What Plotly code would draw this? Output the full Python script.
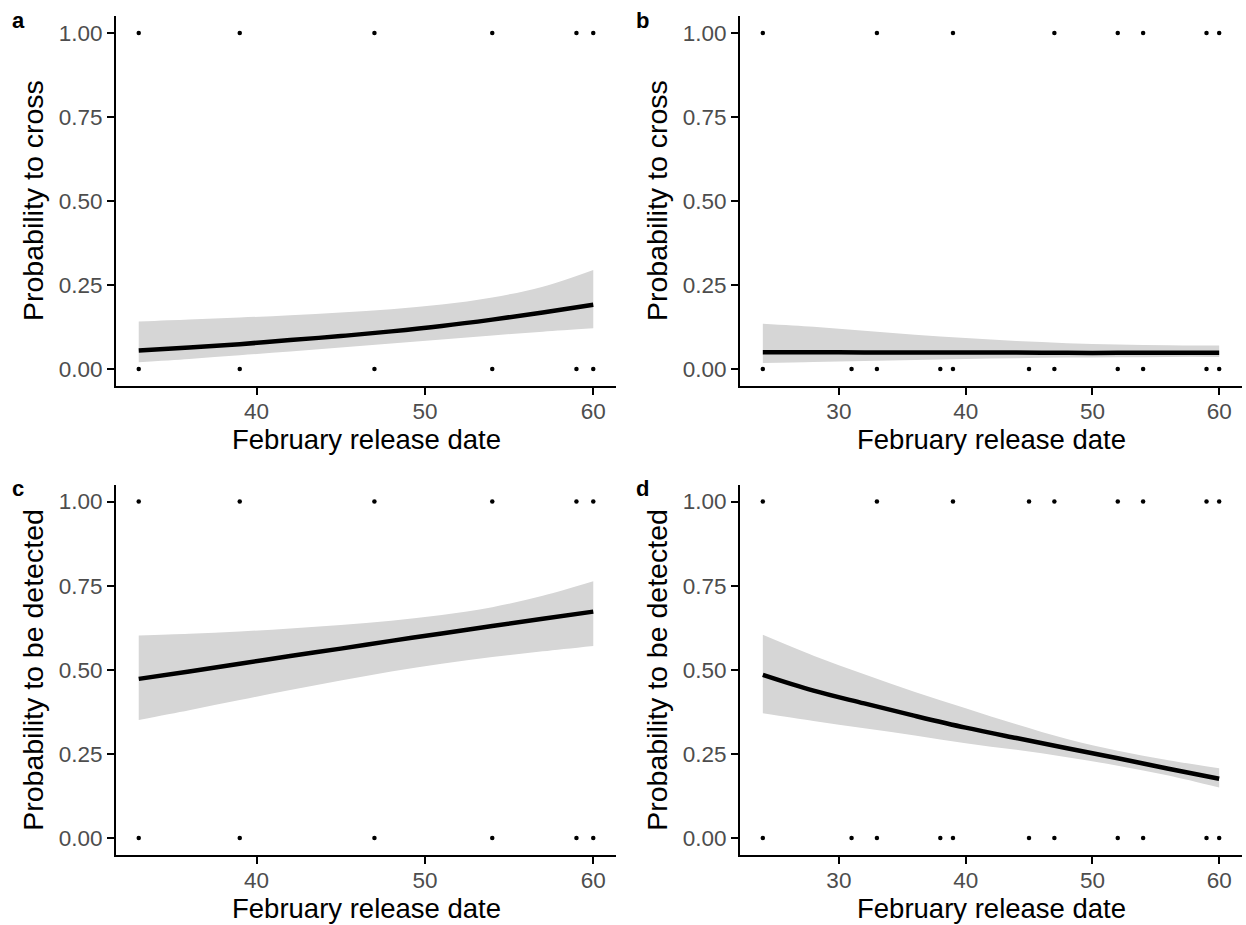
import plotly.graph_objects as go

# ---------------- data ----------------
# Panel a: probability to cross vs release date (site 1)
A_X = [33, 36, 39, 42, 45, 48, 51, 54, 57, 60]
A_FIT = [0.055, 0.064, 0.074, 0.086, 0.098, 0.112, 0.128, 0.147, 0.168, 0.191]
A_UP = [0.141, 0.147, 0.153, 0.160, 0.168, 0.178, 0.192, 0.213, 0.245, 0.295]
A_LO = [0.020, 0.030, 0.041, 0.052, 0.064, 0.076, 0.088, 0.100, 0.111, 0.121]
A_OBS1 = [33, 39, 47, 54, 59, 60]
A_OBS0 = [33, 39, 47, 54, 59, 60]

# Panel b: probability to cross (site 2)
B_X = [24, 28, 32, 36, 40, 44, 48, 52, 56, 60]
B_FIT = [0.050, 0.050, 0.049, 0.049, 0.049, 0.049, 0.048, 0.048, 0.048, 0.048]
B_UP = [0.135, 0.126, 0.114, 0.102, 0.092, 0.083, 0.077, 0.073, 0.071, 0.070]
B_LO = [0.018, 0.021, 0.024, 0.027, 0.030, 0.032, 0.034, 0.035, 0.036, 0.036]
B_OBS1 = [24, 33, 39, 47, 52, 54, 59, 60]
B_OBS0 = [24, 31, 33, 38, 39, 45, 47, 52, 54, 59, 60]

# Panel c: probability to be detected (site 1)
C_X = [33, 36, 39, 42, 45, 48, 51, 54, 57, 60]
C_FIT = [0.473, 0.495, 0.518, 0.541, 0.563, 0.586, 0.608, 0.630, 0.652, 0.673]
C_UP = [0.602, 0.607, 0.614, 0.623, 0.633, 0.646, 0.663, 0.686, 0.720, 0.763]
C_LO = [0.351, 0.380, 0.410, 0.440, 0.468, 0.495, 0.518, 0.538, 0.555, 0.571]
C_OBS1 = [33, 39, 47, 54, 59, 60]
C_OBS0 = [33, 39, 47, 54, 59, 60]

# Panel d: probability to be detected (site 2)
D_X = [24, 28, 32, 36, 40, 44, 48, 52, 56, 60]
D_FIT = [0.485, 0.438, 0.400, 0.363, 0.328, 0.297, 0.267, 0.237, 0.206, 0.176]
D_UP = [0.604, 0.542, 0.487, 0.434, 0.386, 0.338, 0.294, 0.259, 0.231, 0.207]
D_LO = [0.371, 0.348, 0.326, 0.305, 0.282, 0.262, 0.240, 0.215, 0.186, 0.150]
D_OBS1 = [24, 33, 39, 45, 47, 52, 54, 59, 60]
D_OBS0 = [24, 31, 33, 38, 39, 45, 47, 52, 54, 59, 60]

Y_TICKS = [0, 0.25, 0.5, 0.75, 1.0]
Y_TICK_LABELS = ["0.00", "0.25", "0.50", "0.75", "1.00"]
X_TICKS_AC = [40, 50, 60]
X_TICKS_BD = [30, 40, 50, 60]

X_TITLE = "February release date"
Y_TITLES = ["Probability to cross", "Probability to cross",
            "Probability to be detected", "Probability to be detected"]
LETTERS = ["a", "b", "c", "d"]

# ---------------- figure ----------------
W, H = 1246, 925
FONT = "Liberation Sans, Arial, sans-serif"
RIBBON = "rgb(214,214,214)"

panels = [
    (A_X, A_FIT, A_UP, A_LO, A_OBS1, A_OBS0),
    (B_X, B_FIT, B_UP, B_LO, B_OBS1, B_OBS0),
    (C_X, C_FIT, C_UP, C_LO, C_OBS1, C_OBS0),
    (D_X, D_FIT, D_UP, D_LO, D_OBS1, D_OBS0),
]

# pixel geometry of plot areas (left, right, top, bottom)
cols = [(116, 616), (740, 1242)]
rows = [(16.2, 385.8), (484.8, 854.8)]

fig = go.Figure()
layout = dict(
    width=W, height=H,
    margin=dict(l=0, r=0, t=0, b=0),
    paper_bgcolor="white", plot_bgcolor="white",
    showlegend=False,
    font=dict(family=FONT, color="black"),
)

annotations = []
for i, (xs, fit, up, lo, obs1, obs0) in enumerate(panels):
    r, c = divmod(i, 2)
    n = i + 1
    xa = "x" if n == 1 else f"x{n}"
    ya = "y" if n == 1 else f"y{n}"
    allx = obs1 + obs0 + xs
    xmin, xmax = min(allx), max(allx)
    pad = (xmax - xmin) * 0.05

    # confidence ribbon: upper edge, then lower edge filled to it
    fig.add_trace(go.Scatter(
        x=xs, y=up, mode="lines", line=dict(width=0, shape="spline", color=RIBBON),
        hoverinfo="skip", xaxis=xa, yaxis=ya))
    fig.add_trace(go.Scatter(
        x=xs, y=lo, mode="lines", fill="tonexty", fillcolor=RIBBON,
        line=dict(width=0, shape="spline", color=RIBBON),
        hoverinfo="skip", xaxis=xa, yaxis=ya))
    fig.add_trace(go.Scatter(
        x=xs, y=fit, mode="lines",
        line=dict(color="black", width=4.5, shape="spline"),
        xaxis=xa, yaxis=ya))
    fig.add_trace(go.Scatter(
        x=obs1 + obs0, y=[1] * len(obs1) + [0] * len(obs0),
        mode="markers", marker=dict(color="black", size=4.5),
        xaxis=xa, yaxis=ya))

    l, rr = cols[c]
    t, b = rows[r]
    axcommon = dict(
        showgrid=False, zeroline=False, showline=True,
        linecolor="black", linewidth=2,
        ticks="outside", ticklen=7, tickwidth=2, tickcolor="black",
        tickfont=dict(family=FONT, size=22.5, color="#4D4D4D"),
    )
    layout["xaxis" if n == 1 else f"xaxis{n}"] = dict(
        axcommon, domain=[l / W, rr / W], range=[xmin - pad, xmax + pad],
        tickvals=X_TICKS_AC if c == 0 else X_TICKS_BD,
        anchor=ya, ticklabelstandoff=-3,
    )
    layout["yaxis" if n == 1 else f"yaxis{n}"] = dict(
        axcommon, domain=[(H - b) / H, (H - t) / H], range=[-0.05, 1.05],
        tickvals=Y_TICKS, ticktext=Y_TICK_LABELS, anchor=xa,
    )

    # x title
    annotations.append(dict(
        text=X_TITLE, xref="paper", yref="paper",
        x=((l + rr) / 2) / W, y=(H - (b + 54)) / H,
        xanchor="center", yanchor="middle", showarrow=False,
        font=dict(family=FONT, size=27.5, color="black")))
    # y title
    annotations.append(dict(
        text=Y_TITLES[i], xref="paper", yref="paper",
        x=(l - 83) / W, y=(H - (t + b) / 2) / H,
        xanchor="center", yanchor="middle", textangle=-90, showarrow=False,
        font=dict(family=FONT, size=28.5, color="black")))
    # panel letter
    annotations.append(dict(
        text=f"<b>{LETTERS[i]}</b>", xref="paper", yref="paper",
        x=(l - 106) / W, y=(H - (t + 4)) / H,
        xanchor="left", yanchor="middle", showarrow=False,
        font=dict(family=FONT, size=22, color="black")))

layout["annotations"] = annotations
fig.update_layout(**layout)
fig.write_html("out.html")
